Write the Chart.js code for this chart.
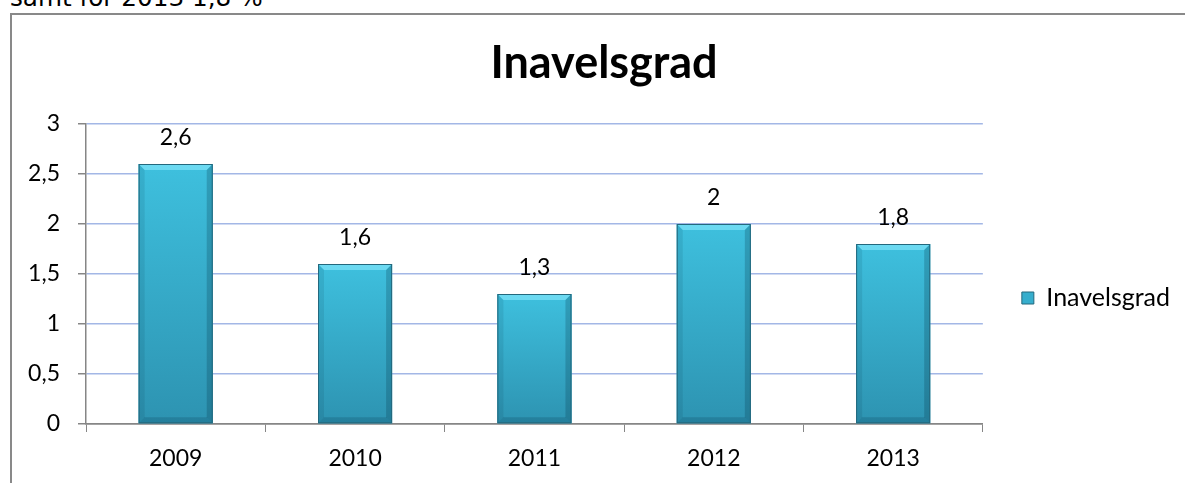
<!DOCTYPE html>
<html>
<head>
<meta charset="utf-8">
<script src="https://cdn.jsdelivr.net/npm/chart.js@4/dist/chart.umd.min.js"></script>
<style>
  html, body { margin: 0; padding: 0; width: 1185px; height: 483px; overflow: hidden; background: #fff; }
  .note { position: absolute; left: 10px; top: -14px; font: 24.7px/1 "DejaVu Sans", sans-serif; color: #000; white-space: nowrap; }
  .frame { position: absolute; left: 10px; top: 13px; width: 2000px; height: 2000px; border-left: 2px solid #898989; border-top: 2px solid #898989; }
  .wrap { position: absolute; left: 12px; top: 0; width: 1188px; height: 483px; }
</style>
</head>
<body>
<div class="note">samt för 2013 1,8 %</div>
<div class="frame"></div>
<div class="wrap"><canvas id="chart"></canvas></div>
<script>
const years = ['2009', '2010', '2011', '2012', '2013'];
const inavelsgrad = [2.6, 1.6, 1.3, 2, 1.8];
const yMin = 0, yMax = 3, yStep = 0.5;

const comma = v => String(v).replace('.', ',');
const font = 'Lato';

// value labels above each bar
const valueLabels = {
    id: 'valueLabels',
    afterDatasetsDraw(chart) {
        const ctx = chart.ctx;
        ctx.save();
        ctx.font = '23px ' + font;
        ctx.fillStyle = '#000';
        ctx.textAlign = 'center';
        ctx.textBaseline = 'alphabetic';
        chart.getDatasetMeta(0).data.forEach((bar, i) => {
            ctx.fillText(comma(inavelsgrad[i]), bar.x, bar.y - 19);
        });
        ctx.restore();
    }
};

// excel-like bevel on the bars
const bevel = {
    id: 'bevel',
    afterDatasetsDraw(chart) {
        const ctx = chart.ctx;
        ctx.save();
        chart.getDatasetMeta(0).data.forEach(bar => {
            const l = bar.x - bar.width / 2, r = bar.x + bar.width / 2;
            const t = bar.y, b = bar.base, e = 6;
            const g = ctx.createLinearGradient(0, t, 0, b);
            g.addColorStop(0, '#3ec0de');
            g.addColorStop(1, '#2d93b1');
            ctx.fillStyle = g;
            ctx.fillRect(l, t, r - l, b - t);
            const poly = (pts, c) => {
                ctx.beginPath();
                pts.forEach((p, k) => k ? ctx.lineTo(p[0], p[1]) : ctx.moveTo(p[0], p[1]));
                ctx.closePath();
                ctx.fillStyle = c;
                ctx.fill();
            };
            poly([[l, t], [r, t], [r - e, t + e], [l + e, t + e]], 'rgba(140,235,255,0.6)');
            poly([[l, t], [l + e, t + e], [l + e, b - e], [l, b]], 'rgba(0,40,60,0.10)');
            poly([[r, t], [r - e, t + e], [r - e, b - e], [r, b]], 'rgba(0,40,60,0.22)');
            poly([[l, b], [l + e, b - e], [r - e, b - e], [r, b]], 'rgba(0,40,60,0.18)');
            ctx.strokeStyle = '#24687d';
            ctx.lineWidth = 1;
            ctx.strokeRect(l + 0.5, t + 0.5, r - l - 1, b - t - 1);
        });
        ctx.restore();
    }
};

new Chart(document.getElementById('chart'), {
    type: 'bar',
    data: {
        labels: years,
        datasets: [{
            label: 'Inavelsgrad',
            data: inavelsgrad,
            backgroundColor: '#34abcb',
            borderWidth: 0,
            categoryPercentage: 1,
            barPercentage: 0.413
        }]
    },
    options: {
        responsive: true,
        maintainAspectRatio: false,
        animation: false,
        layout: { padding: { left: 16, right: 20, top: 0, bottom: 10 } },
        plugins: {
            title: {
                display: true,
                text: 'Inavelsgrad',
                color: '#000',
                font: { family: font, size: 45, weight: 'bold', lineHeight: 1.2 },
                padding: { top: 36, bottom: 34 }
            },
            legend: {
                position: 'right',
                fullSize: false,
                title: { display: true, text: ' ', font: { size: 10, lineHeight: 1 }, padding: 19 },
                labels: {
                    color: '#000',
                    font: { family: font, size: 25 },
                    boxWidth: 12,
                    boxHeight: 12,
                    padding: 39,
                    generateLabels: () => [{
                        text: 'Inavelsgrad',
                        fillStyle: '#36aecd',
                        strokeStyle: '#24687d',
                        fontColor: '#000',
                        lineWidth: 1,
                        datasetIndex: 0
                    }]
                }
            },
            tooltip: { enabled: false }
        },
        scales: {
            x: {
                offset: true,
                afterFit(scale) { scale.height = 49; },
                grid: { display: true, drawOnChartArea: false, drawTicks: true, tickLength: 8, tickColor: '#868686', offset: true },
                border: { color: '#868686', width: 1.5 },
                ticks: { color: '#000', font: { family: font, size: 23 }, padding: 13 }
            },
            y: {
                min: yMin,
                max: yMax,
                afterFit(scale) { scale.width = 58; },
                ticks: { stepSize: yStep, color: '#000', font: { family: font, size: 23 }, padding: 18, callback: v => comma(v) },
                grid: {
                    color: c => c.tick && c.tick.value === 0 ? '#868686' : '#a3b7e6',
                    lineWidth: 1.5,
                    tickLength: 8,
                    tickColor: '#868686'
                },
                border: { color: '#868686', width: 1.5 }
            }
        }
    },
    plugins: [bevel, valueLabels]
});
</script>
</body>
</html>
